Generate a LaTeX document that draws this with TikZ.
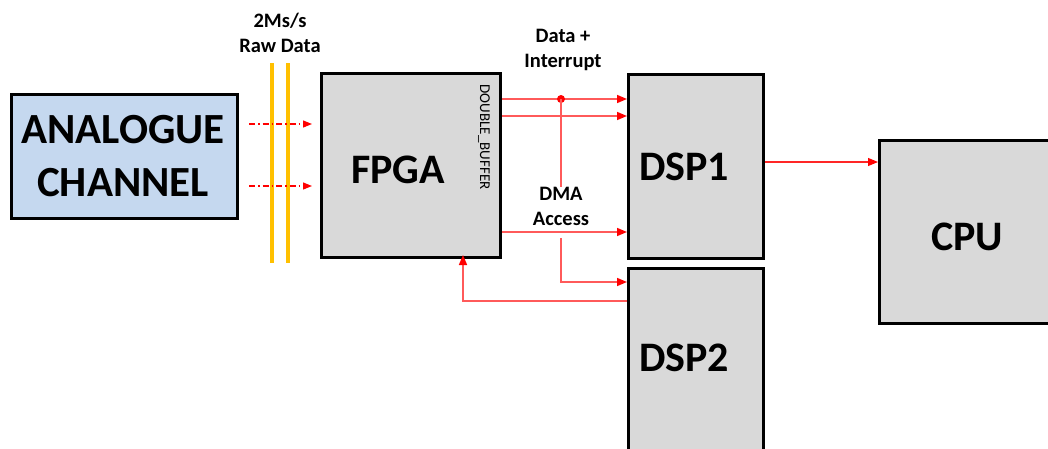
\documentclass[tikz,border=0pt]{standalone}
\usepackage{fontspec}
\setmainfont{Carlito}
\usetikzlibrary{arrows.meta}
\definecolor{boxgray}{HTML}{D9D9D9}
\definecolor{boxblue}{HTML}{C5D8EF}
\definecolor{busyellow}{HTML}{FFC000}
\definecolor{sigred}{HTML}{FF5A5A}
\tikzset{
  block/.style={draw=black, line width=3pt, fill=boxgray, inner sep=0pt, anchor=north west},
  bigtext/.style={font=\bfseries\fontsize{42}{50}\selectfont, inner sep=0pt},
  label/.style={font=\bfseries\fontsize{20.5}{25}\selectfont, align=center, inner sep=0pt},
  sig/.style={draw=sigred, line width=1.6pt, -{Triangle[length=10pt,width=8pt,fill=red,color=red]}},
  plain/.style={draw=sigred, line width=1.6pt},
  rawsig/.style={draw=red, line width=1.2pt, dash pattern=on 6pt off 3pt on 1.5pt off 3pt,
                 -{Triangle[length=9pt,width=7pt,fill=red]}},
  bus/.style={draw=busyellow, line width=4pt}
}
\begin{document}
\begin{tikzpicture}[x=1pt, y=-1pt]
  \useasboundingbox (0,0) rectangle (1048,448);
  \clip (0,0) rectangle (1048,448);

  % blocks
  \node[block, fill=boxblue, minimum width=226pt, minimum height=124pt] (ana) at (10,93) {};
  \node[block, minimum width=179pt, minimum height=184pt] (fpga) at (320,72) {};
  \node[block, minimum width=135pt, minimum height=184pt] (dsp1) at (627,73) {};
  \node[block, minimum width=135pt, minimum height=200pt] (dsp2) at (627,267) {};
  \node[block, minimum width=200pt, minimum height=183pt] (cpu) at (878,139) {};

  % block titles
  \node[bigtext, align=center, font=\bfseries\fontsize{43}{53}\selectfont] (anatxt) at (123,156) {ANALOGUE\\CHANNEL};
  \node[bigtext] (fpgatxt) at (398,170) {FPGA};
  \node[bigtext] (dsp1txt) at (684,167) {DSP1};
  \node[bigtext] (dsp2txt) at (684,358) {DSP2};
  \node[bigtext] (cputxt) at (967,237) {CPU};
  \node[font=\fontsize{15}{16}\selectfont, rotate=-90, inner sep=0pt] (dbuf) at (484,137) {DOUBLE\_BUFFER};

  % raw data bus
  \coordinate (busAtop) at (272,63);
  \coordinate (busAbot) at (272,263);
  \coordinate (busBtop) at (288,63);
  \coordinate (busBbot) at (288,263);
  \draw[bus] (busAtop) -- (busAbot);
  \draw[bus] (busBtop) -- (busBbot);
  \node[label] (rawlbl) at (280,33) {2Ms/s\\Raw Data};

  % analogue samples into the FPGA
  \draw[rawsig] ([xshift=10pt]ana.east |- 0,124) -- ([xshift=-8pt]fpga.west |- 0,124);
  \draw[rawsig] ([xshift=10pt]ana.east |- 0,186) -- ([xshift=-8pt]fpga.west |- 0,186);

  % data + interrupt lines
  \draw[sig] (fpga.east |- 0,99) -- (dsp1.west |- 0,99);
  \draw[sig] (fpga.east |- 0,116) -- (dsp1.west |- 0,116);
  \coordinate (junction) at (561,99);
  \fill[red] (junction) circle (4pt);
  \node[label] (dilbl) at (563,50) {Data +\\Interrupt};
  \node[label] (dmalbl) at (561,206) {DMA\\Access};
  \draw[plain] (junction) -- (dmalbl.north -| junction);

  % DMA access paths
  \draw[sig] (fpga.east |- 0,232) -- (dsp1.west |- 0,232);
  \coordinate (dmasplit) at (561,238);
  \draw[sig] (dmasplit) |- (dsp2.west |- 0,282);

  % DSP2 back to the FPGA
  \coordinate (retcorner) at (463,301);
  \draw[sig] (dsp2.west |- retcorner) -- (retcorner) -- ([yshift=4pt]fpga.south -| retcorner);

  % DSP1 to CPU
  \draw[sig, line width=1.1pt, draw=red!85] (dsp1.east |- 0,162) -- (cpu.west |- 0,162);
\end{tikzpicture}
\end{document}
